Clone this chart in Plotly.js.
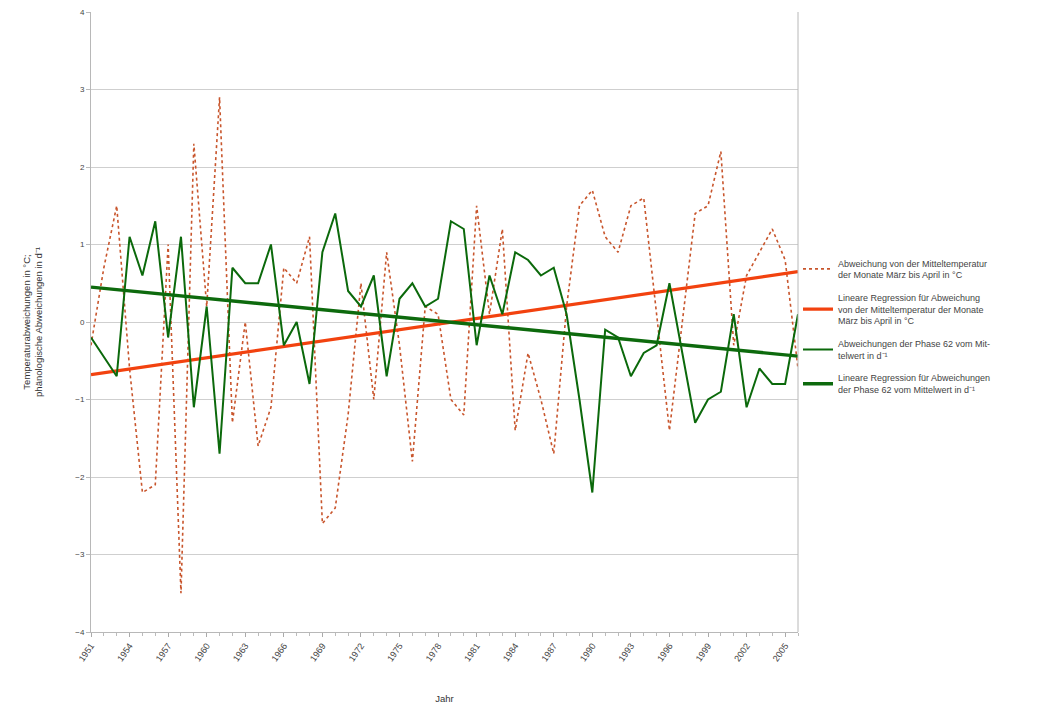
<!DOCTYPE html>
<html>
<head>
<meta charset="utf-8">
<script src="https://cdn.plot.ly/plotly-3.0.1.min.js"></script>
<style>html,body{margin:0;padding:0;background:#fff;}#chart{width:1060px;height:711px;}</style>
</head>
<body>
<div id="chart"></div>
<script>
const years = [1951,1952,1953,1954,1955,1956,1957,1958,1959,1960,1961,1962,1963,1964,1965,1966,1967,1968,1969,1970,1971,1972,1973,1974,1975,1976,1977,1978,1979,1980,1981,1982,1983,1984,1985,1986,1987,1988,1989,1990,1991,1992,1993,1994,1995,1996,1997,1998,1999,2000,2001,2002,2003,2004,2005,2006];
const tempDeviation = [-0.3,0.7,1.5,-0.6,-2.2,-2.1,1.0,-3.5,2.3,0.2,2.9,-1.3,0.0,-1.6,-1.1,0.7,0.5,1.1,-2.6,-2.4,-1.2,0.5,-1.0,0.9,-0.3,-1.8,0.2,0.1,-1.0,-1.2,1.5,0.1,1.2,-1.4,-0.4,-1.0,-1.7,0.2,1.5,1.7,1.1,0.9,1.5,1.6,0.1,-1.4,0.0,1.4,1.5,2.2,-0.3,0.6,0.9,1.2,0.8,-0.6];
const phaseDeviation = [-0.2,-0.45,-0.7,1.1,0.6,1.3,-0.2,1.1,-1.1,0.2,-1.7,0.7,0.5,0.5,1.0,-0.3,0.0,-0.8,0.9,1.4,0.4,0.2,0.6,-0.7,0.3,0.5,0.2,0.3,1.3,1.2,-0.3,0.6,0.1,0.9,0.8,0.6,0.7,0.1,-1.0,-2.2,-0.1,-0.2,-0.7,-0.4,-0.3,0.5,-0.4,-1.3,-1.0,-0.9,0.1,-1.1,-0.6,-0.8,-0.8,0.1];
const trendYears = [1951, 2006];
const tempTrend = [-0.68, 0.65];
const phaseTrend = [0.45, -0.44];
const tickYears = [1951,1954,1957,1960,1963,1966,1969,1972,1975,1978,1981,1984,1987,1990,1993,1996,1999,2002,2005];
const legendNames = [
  "Abweichung von der Mitteltemperatur<br>der Monate März bis April in °C",
  "Lineare Regression für Abweichung<br>von der Mitteltemperatur der Monate<br>März bis April in °C",
  "Abweichungen der Phase 62 vom Mit-<br>telwert in d⁻¹",
  "Lineare Regression für Abweichungen<br>der Phase 62 vom Mittelwert in d⁻¹"
];

const traces = [
  {x: years, y: tempDeviation, type: 'scatter', mode: 'lines', name: legendNames[0], legendgroup: 'a',
   line: {color: '#c8552c', width: 1.6, dash: 'dot'}},
  {x: trendYears, y: tempTrend, type: 'scatter', mode: 'lines', name: legendNames[1], legendgroup: 'b',
   line: {color: '#f2420f', width: 3.2}},
  {x: years, y: phaseDeviation, type: 'scatter', mode: 'lines', name: legendNames[2], legendgroup: 'c',
   line: {color: '#0b690b', width: 2}},
  {x: trendYears, y: phaseTrend, type: 'scatter', mode: 'lines', name: legendNames[3], legendgroup: 'd',
   line: {color: '#0d6a0d', width: 3.4}}
];

const layout = {
  width: 1060, height: 711,
  margin: {l: 91, r: 262, t: 12, b: 79, pad: 0},
  paper_bgcolor: '#fff', plot_bgcolor: '#fff',
  font: {family: 'Liberation Sans, Arial, sans-serif', size: 8, color: '#333'},
  showlegend: true,
  legend: {x: 1.0, y: 0.615, xanchor: 'left', yanchor: 'top', traceorder: 'grouped',
    font: {size: 9, color: '#444'}, tracegroupgap: 8, itemwidth: 30, bgcolor: 'rgba(0,0,0,0)'},
  xaxis: {
    range: [1951, 2006], tickmode: 'array', tickvals: tickYears, ticktext: tickYears.map(String),
    tickangle: -55, ticks: 'outside', ticklen: 4, tickcolor: '#aaa',
    minor: {dtick: 1, ticks: 'outside', ticklen: 3, tickcolor: '#bbb', showgrid: false},
    showgrid: false, showline: true, linecolor: '#b8b8b8', linewidth: 1, mirror: false,
    zeroline: false, tickfont: {size: 9, color: '#444'},
    title: {text: 'Jahr', font: {size: 9.5, color: '#333'}, standoff: 32}
  },
  yaxis: {
    range: [-4, 4], dtick: 1, tick0: -4, showgrid: true, gridcolor: '#cfcfcf', gridwidth: 1,
    zeroline: false, showline: true, linecolor: '#b8b8b8', ticks: 'outside', ticklen: 4, tickcolor: '#bbb',
    tickfont: {size: 8, color: '#444'},
    title: {text: 'Temperaturabweichungen in °C;<br>phänologische Abweichungen in d⁻¹', font: {size: 9.5, color: '#333'}, standoff: 30}
  },
  shapes: [
    {type: 'line', xref: 'paper', yref: 'paper', x0: 1, x1: 1, y0: 0, y1: 1, line: {color: '#b8b8b8', width: 1}}
  ]
};

Plotly.newPlot('chart', traces, layout, {displayModeBar: false, staticPlot: true});
</script>
</body>
</html>
